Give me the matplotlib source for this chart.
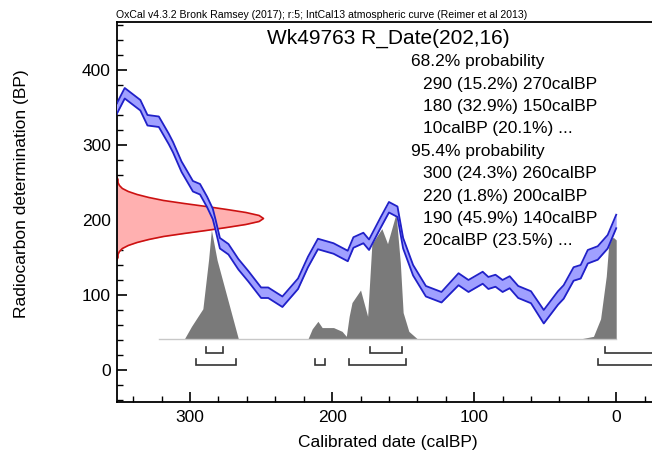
import matplotlib
matplotlib.use("Agg")
import matplotlib.pyplot as plt
import numpy as np

plt.rcParams['font.family'] = ['Liberation Sans', 'DejaVu Sans']

# calibration curve (IntCal13)
curve_cal = [352, 346, 335, 330, 322, 315, 312, 306, 298, 293, 288, 284, 282, 279,
             273, 266, 259, 250, 245, 235, 224, 217, 210, 199, 189, 185, 178, 174,
             166, 160, 154, 150, 143, 134, 123, 111, 104, 94, 90, 85, 80, 75, 69,
             60, 51, 41, 37, 30, 25, 20, 13, 6, 0]
curve_bp = [347, 369, 353, 333, 331, 308, 297, 271, 245, 241, 224, 208, 193, 169,
            161, 141, 125, 103, 103, 91, 115, 144, 168, 162, 152, 170, 176, 167,
            196, 217, 211, 169, 133, 105, 97, 121, 112, 123, 116, 119, 112, 117, 104,
            97, 71, 96, 104, 128, 131, 151, 156, 171, 198]
curve_err = [7, 7, 7, 7, 7, 7, 7, 7, 7, 7, 7, 7, 7, 7,
             7, 7, 7, 7, 7, 7, 7, 7, 7, 7, 7, 7, 7, 7,
             7, 7, 7, 7, 7, 7, 7, 8, 8, 8, 8, 8, 8, 8, 8,
             8, 9, 9, 9, 9, 9, 9, 9, 9, 9]

# radiocarbon measurement, relative density vs BP
meas_bp = [146, 150, 154, 158, 162, 166, 170, 174, 178, 182, 186, 190, 194, 198, 202,
           206, 210, 214, 218, 222, 226, 230, 234, 238, 242, 246, 250, 254, 258]
meas_rel = [0.00, 0.01, 0.01, 0.02, 0.04, 0.08, 0.14, 0.22, 0.32, 0.46, 0.61, 0.75, 0.88, 0.97, 1.00,
            0.97, 0.88, 0.75, 0.61, 0.46, 0.32, 0.22, 0.14, 0.08, 0.04, 0.02, 0.01, 0.01, 0.00]

# calibrated probability, relative
prob_cal = [322, 304, 299, 291, 287, 285, 281, 276, 271, 266, 217, 214, 210, 207, 199, 193,
            190, 188, 186, 180, 175, 172, 165, 161, 155, 152, 150, 146, 140, 25, 16, 11, 7,
            5, 2, 0, 0]
prob_rel = [0.00, 0.00, 0.10, 0.24, 0.63, 0.87, 0.63, 0.42, 0.21, 0.00, 0.00, 0.08, 0.14, 0.09, 0.09, 0.06,
            0.02, 0.18, 0.29, 0.39, 0.18, 0.76, 0.88, 0.76, 1.00, 0.61, 0.21, 0.06, 0.00, 0.00, 0.02, 0.16, 0.50,
            0.79, 0.81, 0.79, 0.00]

range68 = [(289, 277), (173, 151), (8, -40)]
range95 = [(296, 268), (212, 205), (188, 148), (13, -40)]

title = "Wk49763 R_Date(202,16)"
lines = [("68.2% probability", 0),
         ("290 (15.2%) 270calBP", 1),
         ("180 (32.9%) 150calBP", 1),
         ("10calBP (20.1%) ...", 1),
         ("95.4% probability", 0),
         ("300 (24.3%) 260calBP", 1),
         ("220 (1.8%) 200calBP", 1),
         ("190 (45.9%) 140calBP", 1),
         ("20calBP (23.5%) ...", 1)]
header = "OxCal v4.3.2 Bronk Ramsey (2017); r:5; IntCal13 atmospheric curve (Reimer et al 2013)"

W, H = 652, 458
fig = plt.figure(figsize=(W / 100, H / 100), dpi=100)
ax = fig.add_axes([116.5 / W, 1 - 402 / H, (W - 116.5) / W, (402 - 22) / H])
ax.set_xlim(351.8, -25.2)
ax.set_ylim(-42.7, 464)

# calibration band
cc = np.array(curve_cal)
cb = np.array(curve_bp)
ce = np.array(curve_err)
ax.fill_between(cc, cb - ce, cb + ce, color='#a0a0ff', lw=0, zorder=3)
ax.plot(cc, cb + ce, color='#2020c8', lw=1.3, zorder=4)
ax.plot(cc, cb - ce, color='#2020c8', lw=1.3, zorder=4)

# measurement on y axis
x0 = 351.8
mb = np.array(meas_bp)
mx = x0 - np.array(meas_rel) * 103.5
ax.fill_betweenx(mb, x0, mx, color='#ffb0b0', lw=0, zorder=2)
ax.plot(mx, mb, color='#cc1111', lw=1.2, zorder=2)

# calibrated distribution
base = 41.5
pc = np.array(prob_cal)
ph = base + np.array(prob_rel) * 167
ax.fill_between(pc, base, ph, color='#7a7a7a', lw=0, zorder=1)
ax.plot([prob_cal[0], 0], [base, base], color='#c8c8c8', lw=1.0, zorder=1)

# range brackets
for rows, y, t in [(range68, 22, 8), (range95, 7, 8)]:
    for a, b in rows:
        ax.plot([a, a, b, b], [y + t, y, y, y + t], color='#333333', lw=1.2,
                solid_joinstyle='miter', zorder=5)

ax.set_xticks([300, 200, 100, 0])
ax.set_xticks(np.arange(-20, 352, 20), minor=True)
ax.set_yticks([0, 100, 200, 300, 400])
ax.set_yticks(np.arange(-40, 464, 20), minor=True)
ax.tick_params(direction='in', which='major', length=7, width=1.2, labelsize=12.5,
               top=False, right=False)
ax.tick_params(direction='in', which='minor', length=4, width=1.0, top=False, right=False)
ax.tick_params(axis='x', pad=6)
ax.tick_params(axis='y', pad=4)
ax.spines['right'].set_visible(False)
for s in ['left', 'bottom', 'top']:
    ax.spines[s].set_linewidth(1.3)

fig.text(116.5 / W, 1 - 20 / H, header, fontsize=7.6, va='bottom', ha='left')
fig.text(388 / W, 1 - 38 / H, title, fontsize=15, ha='center', va='center')
y = 61.7
for txt, ind in lines:
    fig.text((410.7 + 12 * ind) / W, 1 - y / H, txt, fontsize=12.5, ha='left', va='center')
    y += 22.4

fig.text(22 / W, 1 - 194 / H, "Radiocarbon determination (BP)", rotation=90,
         fontsize=12.5, ha='center', va='center')
fig.text(388 / W, 1 - 442 / H, "Calibrated date (calBP)", fontsize=12.5,
         ha='center', va='center')

fig.savefig("out.png", dpi=100)
